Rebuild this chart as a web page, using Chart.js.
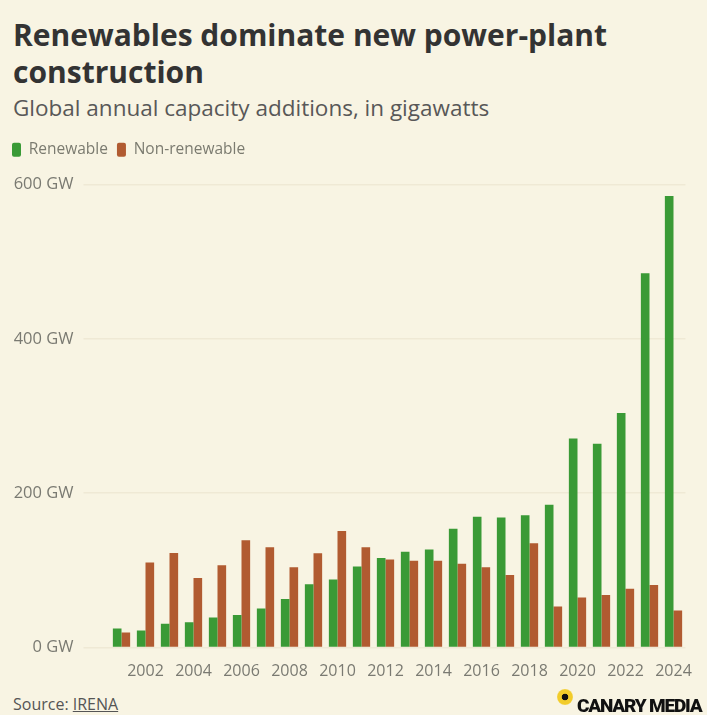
<!DOCTYPE html>
<html>
<head>
<meta charset="utf-8">
<script src="https://cdn.jsdelivr.net/npm/chart.js@4.4.1/dist/chart.umd.min.js"></script>
<style>
  html, body { margin: 0; padding: 0; background: #f8f4e3; }
  body { width: 707px; height: 715px; position: relative; overflow: hidden; font-family: "Open Sans", sans-serif; }
  #title { position: absolute; left: 13px; top: 17px; width: 690px; font-size: 30px; font-weight: 700; line-height: 36.7px; color: #333; margin: 0; }
  #subtitle { position: absolute; left: 13px; top: 92px; font-size: 22.5px; color: #585858; margin: 0; white-space: nowrap; line-height: normal; }
  #wrap { position: absolute; left: 0; top: 120px; width: 707px; height: 570px; }
  #source { position: absolute; left: 13px; top: 693px; font-size: 16px; color: #555; }
  #source span { text-decoration: underline; }
  #logo { position: absolute; left: 556px; top: 689px; width: 151px; height: 26px; }
  #logo .dot { position: absolute; left: 1px; top: 0px; width: 16px; height: 16px; border-radius: 50%; background: radial-gradient(circle, #111 0 26%, #f2cc2a 32% 62%, rgba(242,204,42,0) 100%); }
  #logo .txt { position: absolute; left: 21px; top: 5px; font-family: Roboto, sans-serif; font-weight: 900; font-size: 19px; letter-spacing: -1.2px; color: #111; white-space: nowrap; }
</style>
</head>
<body>
<h1 id="title">Renewables dominate new power-plant construction</h1>
<p id="subtitle">Global annual capacity additions, in gigawatts</p>
<div id="wrap"><canvas id="c" width="707" height="570"></canvas></div>
<div id="source">Source: <span>IRENA</span></div>
<div id="logo"><div class="dot"></div><div class="txt">CANARY MEDIA</div></div>
<script>
const years = ["2001","2002","2003","2004","2005","2006","2007","2008","2009","2010","2011","2012",
               "2013","2014","2015","2016","2017","2018","2019","2020","2021","2022","2023","2024"];
const renewable = [24.6, 22, 30.7, 32.7, 39, 42, 50.5, 63, 82, 88, 105, 116,
                   124, 127, 154, 169.5, 168.5, 171.5, 185, 271, 264, 304, 485, 585];
const nonRenewable = [19.4, 110, 122.5, 90, 106.5, 139, 130, 104, 122, 151, 130, 114,
                      112.5, 112.5, 108.5, 104, 94, 135, 53, 64.7, 68, 76, 81, 48];
const yTicks = [0, 200, 400, 600];
const seriesNames = ["Renewable", "Non-renewable"];
const seriesColors = ["#3a9a36", "#b15b31"];

const legendSpacer = {
  id: 'legendSpacer',
  beforeLayout(chart) {
    const lg = chart.legend;
    if (lg && !lg._spaced) {
      const fit = lg.fit.bind(lg);
      lg.fit = function () { fit(); this.height += 17; };
      lg._spaced = true;
    }
  }
};

new Chart(document.getElementById('c'), {
  type: 'bar',
  data: {
    labels: years,
    datasets: [
      { label: seriesNames[0], data: renewable, backgroundColor: seriesColors[0] },
      { label: seriesNames[1], data: nonRenewable, backgroundColor: seriesColors[1] }
    ]
  },
  options: {
    responsive: false,
    animation: false,
    devicePixelRatio: 1,
    categoryPercentage: 0.72,
    barPercentage: 1.0,
    layout: { padding: { left: 3, right: 21.5, top: 13, bottom: 0 } },
    plugins: {
      legend: {
        display: true,
        position: 'top',
        align: 'start',
        labels: {
          boxWidth: 9,
          boxHeight: 14,
          padding: 9,
          useBorderRadius: true,
          borderRadius: 2,
          color: '#7b7b70',
          font: { family: 'Open Sans', size: 15.5 }
        }
      },
      tooltip: { enabled: false }
    },
    scales: {
      x: {
        grid: { display: false },
        border: { display: false },
        ticks: {
          autoSkip: false,
          maxRotation: 0,
          padding: 6,
          color: '#7a7a72',
          font: { family: 'Open Sans', size: 16 },
          callback: function (v, i) { return (parseInt(years[i]) % 2 === 0) ? years[i] : ''; }
        },
        afterFit(s) { s.height = 42.5; }
      },
      y: {
        min: 0,
        max: 600,
        afterBuildTicks(s) { s.ticks = yTicks.map(v => ({ value: v })); },
        grid: { color: '#efe9d5', lineWidth: 1.5, drawTicks: true, tickLength: 26 },
        border: { display: false },
        ticks: {
          padding: 10,
          color: '#7a7a72',
          font: { family: 'Open Sans', size: 16.5 },
          callback: v => v + ' GW'
        },
        afterFit(s) { s.width = 106.5; }
      }
    }
  },
  plugins: [legendSpacer]
});
</script>
</body>
</html>
